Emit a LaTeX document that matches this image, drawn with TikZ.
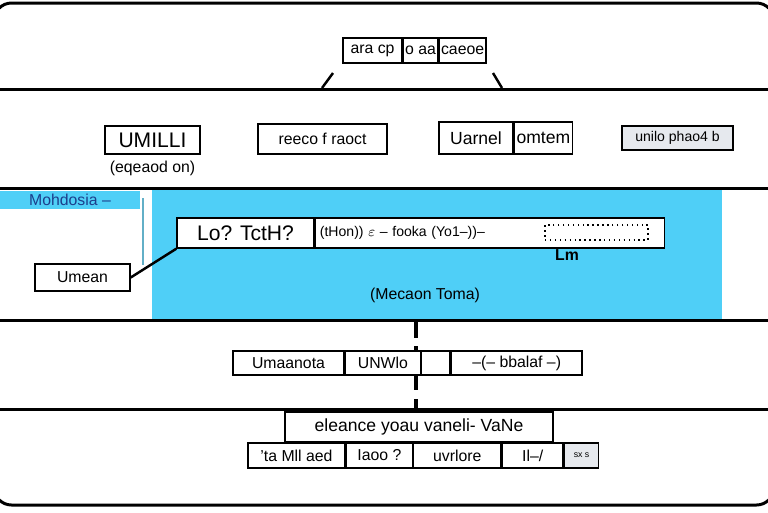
\documentclass[tikz,border=0pt]{standalone}
\usepackage{fontspec}
\setmainfont{Liberation Sans}
\usepackage{xcolor}
\usetikzlibrary{positioning}
\definecolor{bandblue}{HTML}{4FCFF7}
\definecolor{labelblue}{HTML}{1C3F8C}
\definecolor{cellgrey}{HTML}{E6E9EE}

\begin{document}
\begin{tikzpicture}[x=0.02cm, y=-0.02cm,
  rule/.style={line width=1.7pt, black},
  cell/.style={draw, thick, fill=white, inner sep=1pt, font=\small},
  wire/.style={line width=1.4pt}
]
  \useasboundingbox (0,0) rectangle (768,512);

  % bands
  \fill[bandblue] (152,189) rectangle (722,319);
  \fill[bandblue] (0,191) rectangle (140,209);
  \draw[rule, rounded corners=10pt] (-6,3) rectangle (774,505);
  \foreach \yy in {89,188,320,409}
    \draw[rule] (-6,\yy) -- (774,\yy);

  % top
  \node[cell, minimum width=1.18cm, minimum height=0.5cm] (ara) at (372.5,50.5) {ara cp};
  \node[cell, minimum width=0.66cm, minimum height=0.5cm, right=0pt of ara] (oaa) {o aa};
  \node[cell, minimum width=0.94cm, minimum height=0.5cm, right=0pt of oaa] (caeoe) {caeoe};
  \coordinate (legl) at (322,88);
  \coordinate (legr) at (502,88);
  \draw[wire] (legl) -- (333,73);
  \draw[wire] (legr) -- (493,73);

  % second row
  \node[cell, minimum width=1.9cm, minimum height=0.56cm, font=\large] (umilli) at (152.5,140) {UMILLI};
  \node[font=\small, below=0pt of umilli] (eqea) {(eqeaod on)};
  \node[cell, minimum width=2.58cm, minimum height=0.6cm] (reeco) at (322.5,139) {reeco f raoct};
  \node[cell, minimum width=1.48cm, minimum height=0.64cm, font=\normalsize] (uarnel) at (476,138) {Uarnel};
  \node[cell, minimum width=1.16cm, minimum height=0.64cm, font=\normalsize, right=0pt of uarnel] (omtem) {omtem};
  \node[cell, fill=cellgrey, minimum width=2.22cm, minimum height=0.48cm, font=\footnotesize] (unilo) at (677.5,138) {unilo phao4 b};

  % blue band
  \node[text=labelblue, font=\small] (mohd) at (70,200) {Mohdosia --};
  \coordinate (vt) at (143,198);
  \coordinate (vb) at (143,265);
  \draw[gray!40!bandblue, line width=1.2pt] (vt) -- (vb);
  \node[cell, minimum width=1.9cm, minimum height=0.54cm] (umean) at (82.5,277.5) {Umean};
  \node[cell, minimum width=2.74cm, minimum height=0.6cm, font=\large] (lotc) at (245.5,233) {Lo? TctH?};
  \node[cell, minimum width=6.98cm, minimum height=0.6cm, text width=6.8cm, align=left,
    font=\footnotesize, right=0pt of lotc] (thon) {(tHon)) $\varepsilon$ -- fooka (Yo1--))--};
  \node[draw, dotted, thick, minimum width=2.06cm, minimum height=0.3cm, inner sep=0pt] (brk) at (596.5,232.5) {};
  \draw[wire] (umean.east) -- (lotc.south west);
  \node[font=\small\bfseries] (lm) at (567,255) {Lm};
  \node[font=\small] (meca) at (425,295) {(Mecaon Toma)};

  % dashed spine
  \coordinate (sp1) at (416,320);
  \coordinate (sp2) at (416,409);
  \draw[line width=2pt, dash pattern=on 10pt off 5pt] (sp1) -- (sp2);

  % fourth row
  \node[cell, minimum width=2.22cm, minimum height=0.48cm] (umaa) at (288.5,363) {Umaanota};
  \node[cell, minimum width=1.5cm, minimum height=0.48cm, right=0pt of umaa] (unwl) {UNWlo};
  \node[cell, minimum width=0.56cm, minimum height=0.48cm, right=0pt of unwl] (gap) {};
  \node[cell, minimum width=2.62cm, minimum height=0.48cm, right=0pt of gap] (bbal) {--(-- bbalaf --)};

  % fifth row
  \node[cell, minimum width=5.36cm, minimum height=0.6cm, font=\normalsize] (elea) at (419,427) {eleance yoau vaneli- VaNe};
  \node[cell, minimum width=1.94cm, minimum height=0.5cm] (mll) at (296.5,455.5) {'ta Mll aed};
  \node[cell, minimum width=1.32cm, minimum height=0.5cm, right=0pt of mll] (iaoo) {Iaoo ?};
  \node[cell, minimum width=1.74cm, minimum height=0.5cm, right=0pt of iaoo] (uvrl) {uvrlore};
  \node[cell, minimum width=1.22cm, minimum height=0.5cm, right=0pt of uvrl] (ilar) {Il--/};
  \node[cell, fill=cellgrey, minimum width=0.68cm, minimum height=0.5cm, font=\tiny, right=0pt of ilar] (sxs) {sx s};
\end{tikzpicture}
\end{document}
